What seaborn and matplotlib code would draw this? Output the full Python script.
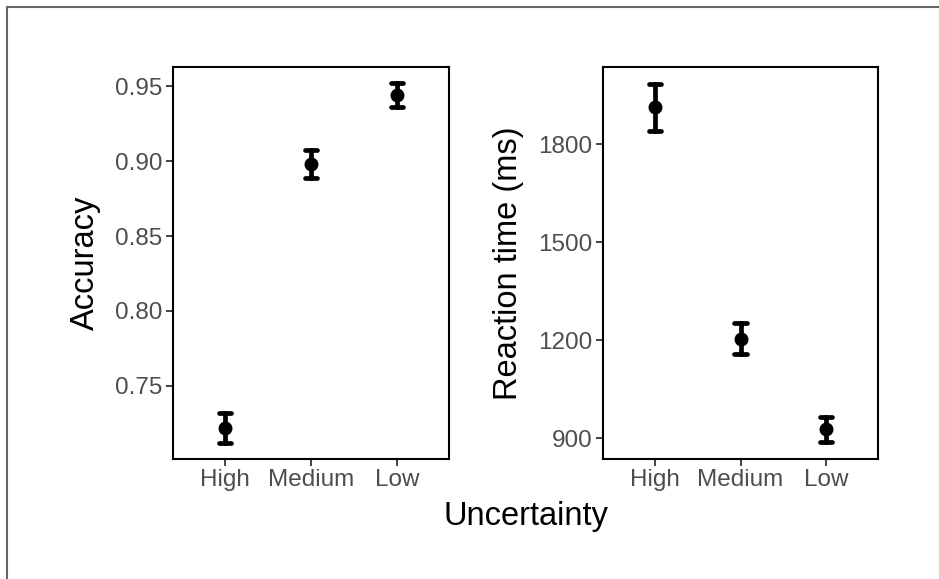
import pandas as pd
import matplotlib
matplotlib.use("Agg")
import matplotlib.pyplot as plt
import seaborn as sns
from matplotlib.lines import Line2D
from matplotlib.ticker import FormatStrFormatter

# data (mean and half-width of the error bar)
uncertainty = ["High", "Medium", "Low"]
acc_mean = [0.722, 0.898, 0.944]
acc_err = [0.0098, 0.0094, 0.0080]
rt_mean = [1913, 1205, 928]
rt_err = [71, 48, 38]

acc_ticks = [0.75, 0.80, 0.85, 0.90, 0.95]
rt_ticks = [900, 1200, 1500, 1800]


def long_frame(means, errs, col):
    # three rows per level: lower end, mean, upper end
    rows = []
    for lev, m, e in zip(uncertainty, means, errs):
        for v in (m - e, m, m + e):
            rows.append({"Uncertainty": lev, col: v})
    return pd.DataFrame(rows)


acc_df = long_frame(acc_mean, acc_err, "Accuracy")
rt_df = long_frame(rt_mean, rt_err, "RT")

sns.set_theme(style="ticks")
plt.rcParams["font.family"] = ["Liberation Sans", "DejaVu Sans"]

fig = plt.figure(figsize=(9.39, 5.79), dpi=100)
ax1 = fig.add_axes([173 / 939, 1 - 459 / 579, 276 / 939, 392 / 579])
ax2 = fig.add_axes([603 / 939, 1 - 459 / 579, 275 / 939, 392 / 579])


def draw(ax, df, col):
    sns.pointplot(
        data=df, x="Uncertainty", y=col, order=uncertainty, ax=ax,
        estimator="median", errorbar=lambda v: (v.min(), v.max()),
        color="black", linestyle="none", markersize=8, capsize=0.14,
        err_kws={"linewidth": 3.4},
    )
    ax.set_xlim(-0.6, 2.6)
    ax.set_xlabel("")
    for s in ax.spines.values():
        s.set_visible(True)
        s.set_linewidth(1.5)
        s.set_color("black")
    ax.tick_params(axis="both", length=5, width=1.3, color="#333333",
                   labelsize=17.5, labelcolor="#4D4D4D", pad=2.5)


draw(ax1, acc_df, "Accuracy")
ax1.set_ylim(0.7013, 0.9627)
ax1.set_yticks(acc_ticks)
ax1.yaxis.set_major_formatter(FormatStrFormatter("%.2f"))
ax1.set_ylabel("Accuracy", fontsize=23.5, color="black", labelpad=10)

draw(ax2, rt_df, "RT")
ax2.set_ylim(836.6, 2036.7)
ax2.set_yticks(rt_ticks)
ax2.set_ylabel("Reaction time (ms)", fontsize=23.5, color="black", labelpad=10)

fig.text(526 / 939, 1 - 525 / 579, "Uncertainty", fontsize=23.5,
         ha="center", va="baseline", color="black")

# outer frame (only top and left edges show in the reference)
fig.add_artist(Line2D([7 / 939, 1], [1 - 7 / 579, 1 - 7 / 579],
                      transform=fig.transFigure, color="#666666", lw=1.5))
fig.add_artist(Line2D([7 / 939, 7 / 939], [0, 1 - 7 / 579],
                      transform=fig.transFigure, color="#666666", lw=1.5))

fig.savefig("out.png", dpi=100, facecolor="white")
